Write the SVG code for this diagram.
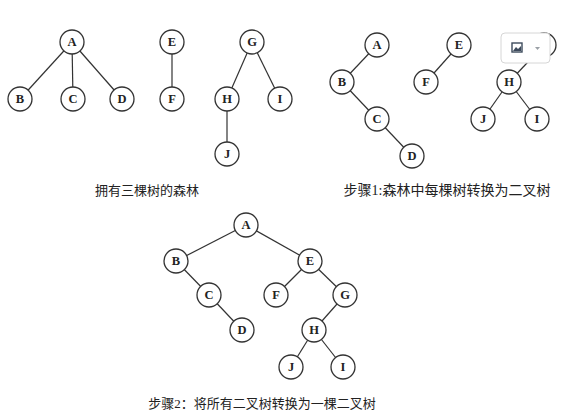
<svg xmlns="http://www.w3.org/2000/svg" width="578" height="419" viewBox="0 0 578 419">
<style>
.e{stroke:#333;stroke-width:1.2;fill:none}
.n circle{fill:#fff;stroke:#333;stroke-width:1.3}
.n text{font-family:"Liberation Serif",serif;font-weight:bold;font-size:12.5px;fill:#222;text-anchor:middle;dominant-baseline:central}
.cap{font-family:"Liberation Serif","Noto Sans CJK SC",sans-serif;fill:#222;text-anchor:middle}
</style>
<rect width="578" height="419" fill="#fff"/>
<g id="connectors">
<!-- forest -->
<line class="e" x1="72" y1="42" x2="20" y2="99"/>
<line class="e" x1="72" y1="42" x2="73" y2="99"/>
<line class="e" x1="72" y1="42" x2="122" y2="99"/>
<line class="e" x1="172" y1="42" x2="172" y2="99"/>
<line class="e" x1="252" y1="42" x2="227" y2="99"/>
<line class="e" x1="252" y1="42" x2="280" y2="99"/>
<line class="e" x1="227" y1="99" x2="227" y2="154"/>
<!-- step 1 -->
<line class="e" x1="377" y1="45" x2="342" y2="82"/>
<line class="e" x1="342" y1="82" x2="377" y2="119"/>
<line class="e" x1="377" y1="119" x2="412" y2="156"/>
<line class="e" x1="459" y1="45" x2="426" y2="82"/>
<line class="e" x1="544" y1="45" x2="509" y2="82"/>
<line class="e" x1="509" y1="82" x2="483" y2="119"/>
<line class="e" x1="509" y1="82" x2="537" y2="119"/>
<!-- step 2 -->
<line class="e" x1="246" y1="225" x2="176" y2="261"/>
<line class="e" x1="246" y1="225" x2="310" y2="261"/>
<line class="e" x1="176" y1="261" x2="209" y2="295"/>
<line class="e" x1="209" y1="295" x2="242" y2="330"/>
<line class="e" x1="310" y1="261" x2="276" y2="295"/>
<line class="e" x1="310" y1="261" x2="345" y2="295"/>
<line class="e" x1="345" y1="295" x2="314" y2="330"/>
<line class="e" x1="314" y1="330" x2="291" y2="367"/>
<line class="e" x1="314" y1="330" x2="343" y2="367"/>
</g>
<!-- forest nodes -->
<g id="f-A" class="n"><circle cx="72" cy="42" r="12"/><text x="72" y="42">A</text></g>
<g id="f-B" class="n"><circle cx="20" cy="99" r="12"/><text x="20" y="99">B</text></g>
<g id="f-C" class="n"><circle cx="73" cy="99" r="12"/><text x="73" y="99">C</text></g>
<g id="f-D" class="n"><circle cx="122" cy="99" r="12"/><text x="122" y="99">D</text></g>
<g id="f-E" class="n"><circle cx="172" cy="42" r="12"/><text x="172" y="42">E</text></g>
<g id="f-F" class="n"><circle cx="172" cy="99" r="12"/><text x="172" y="99">F</text></g>
<g id="f-G" class="n"><circle cx="252" cy="42" r="12"/><text x="252" y="42">G</text></g>
<g id="f-H" class="n"><circle cx="227" cy="99" r="12"/><text x="227" y="99">H</text></g>
<g id="f-I" class="n"><circle cx="280" cy="99" r="12"/><text x="280" y="99">I</text></g>
<g id="f-J" class="n"><circle cx="227" cy="154" r="12"/><text x="227" y="154">J</text></g>
<!-- step1 nodes -->
<g id="s1-A" class="n"><circle cx="377" cy="45" r="12"/><text x="377" y="45">A</text></g>
<g id="s1-B" class="n"><circle cx="342" cy="82" r="12"/><text x="342" y="82">B</text></g>
<g id="s1-C" class="n"><circle cx="377" cy="119" r="12"/><text x="377" y="119">C</text></g>
<g id="s1-D" class="n"><circle cx="412" cy="156" r="12"/><text x="412" y="156">D</text></g>
<g id="s1-E" class="n"><circle cx="459" cy="45" r="12"/><text x="459" y="45">E</text></g>
<g id="s1-F" class="n"><circle cx="426" cy="82" r="12"/><text x="426" y="82">F</text></g>
<g id="s1-G" class="n"><circle cx="544" cy="45" r="12"/></g>
<g id="s1-H" class="n"><circle cx="509" cy="82" r="12"/><text x="509" y="82">H</text></g>
<g id="s1-J" class="n"><circle cx="483" cy="119" r="12"/><text x="483" y="119">J</text></g>
<g id="s1-I" class="n"><circle cx="537" cy="119" r="12"/><text x="537" y="119">I</text></g>
<!-- step2 nodes -->
<g id="s2-A" class="n"><circle cx="246" cy="225" r="12"/><text x="246" y="225">A</text></g>
<g id="s2-B" class="n"><circle cx="176" cy="261" r="12"/><text x="176" y="261">B</text></g>
<g id="s2-C" class="n"><circle cx="209" cy="295" r="12"/><text x="209" y="295">C</text></g>
<g id="s2-D" class="n"><circle cx="242" cy="330" r="12"/><text x="242" y="330">D</text></g>
<g id="s2-E" class="n"><circle cx="310" cy="261" r="12"/><text x="310" y="261">E</text></g>
<g id="s2-F" class="n"><circle cx="276" cy="295" r="12"/><text x="276" y="295">F</text></g>
<g id="s2-G" class="n"><circle cx="345" cy="295" r="12"/><text x="345" y="295">G</text></g>
<g id="s2-H" class="n"><circle cx="314" cy="330" r="12"/><text x="314" y="330">H</text></g>
<g id="s2-J" class="n"><circle cx="291" cy="367" r="12"/><text x="291" y="367">J</text></g>
<g id="s2-I" class="n"><circle cx="343" cy="367" r="12"/><text x="343" y="367">I</text></g>
<!-- captions -->
<text class="cap" x="147" y="195" font-size="13">拥有三棵树的森林</text>
<text class="cap" x="447" y="195" font-size="14">步骤1:森林中每棵树转换为二叉树</text>
<text class="cap" x="262" y="408" font-size="13">步骤2：将所有二叉树转换为一棵二叉树</text>
<!-- overlay button -->
<g id="overlay">
<rect x="501" y="33" width="49" height="30" rx="4" fill="#fff" stroke="#d6d6d6" stroke-width="1"/>
<rect x="512" y="43" width="10" height="9" fill="#fff" stroke="#3d4a5c" stroke-width="1.4"/>
<path d="M513 51 L516 47 L518 49 L521 46 L521 51 Z" fill="#3d4a5c"/>
<path d="M535 47 L540 47 L537.5 50 Z" fill="#9aa0a6"/>
</g>
</svg>
